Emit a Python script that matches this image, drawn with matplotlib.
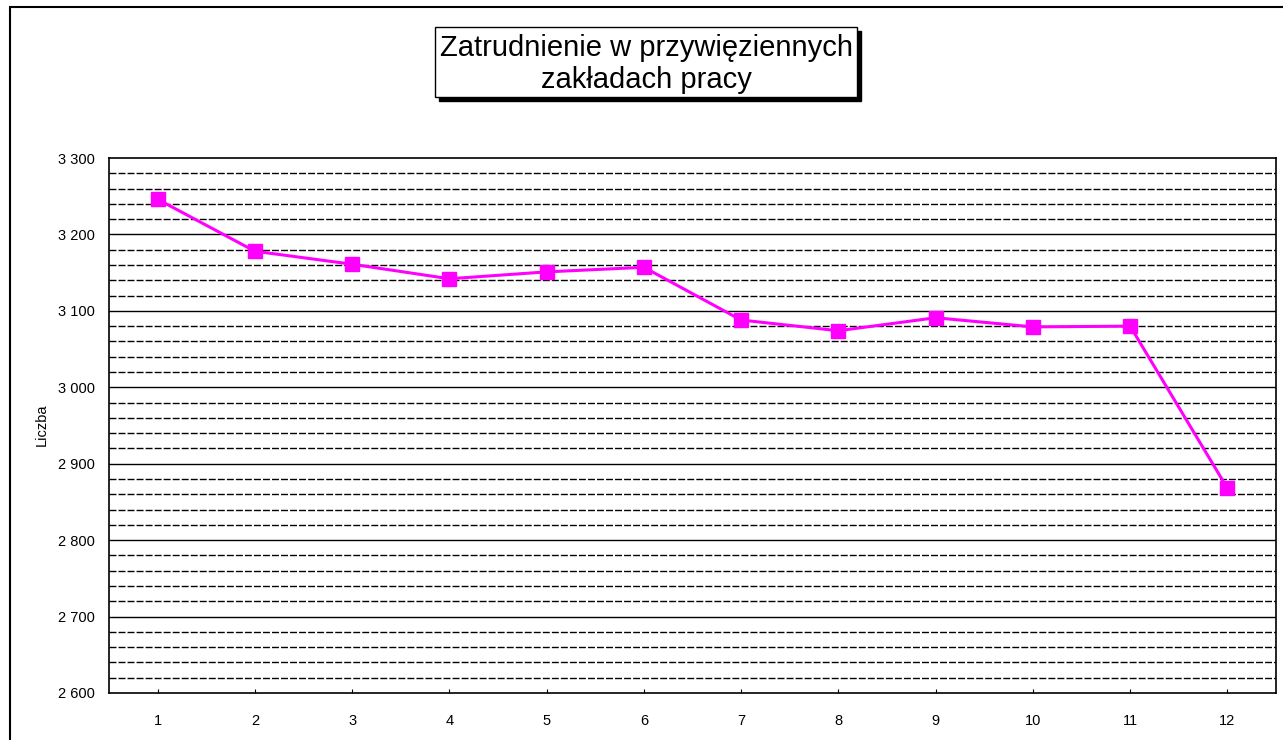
import matplotlib
matplotlib.use("Agg")
import matplotlib.pyplot as plt
from matplotlib.patches import Rectangle
from matplotlib.ticker import MultipleLocator, FuncFormatter

plt.rcParams['font.family'] = ['Liberation Sans', 'DejaVu Sans']

months = [1, 2, 3, 4, 5, 6, 7, 8, 9, 10, 11, 12]
employment = [3246, 3178, 3161, 3142, 3151, 3157, 3088, 3074, 3091, 3079, 3080, 2868]
title_text = "Zatrudnienie w przywięziennych\nzakładach pracy"
ylabel_text = "Liczba"

W, H = 1283, 740
fig = plt.figure(figsize=(W / 100, H / 100), dpi=100)

# outer chart border (right and bottom edges fall outside the image)
fig.patches.append(Rectangle((10 / W, -0.05), 1.05, 1.05 - 7 / H,
                             transform=fig.transFigure, fill=False,
                             edgecolor='black', linewidth=1.5))

left, right, top, bottom = 109, 1276, 158, 693
ax = fig.add_axes([left / W, 1 - bottom / H, (right - left) / W, (bottom - top) / H])

ax.set_xlim(0.5, 12.5)
ax.set_ylim(2600, 3300)

# gridlines every 20
for v in range(2620, 3300, 20):
    if v % 100 == 0:
        ax.axhline(v, color='black', linewidth=1.0, zorder=1)
    else:
        ax.axhline(v, color='black', linewidth=1.0, linestyle=(0, (5, 1.5)), zorder=1)

ax.plot(months, employment, color='#FF00FF', linewidth=2.2, marker='s',
        markersize=10, markerfacecolor='#FF00FF', markeredgecolor='#FF00FF', zorder=3)

ax.yaxis.set_major_locator(MultipleLocator(100))
ax.yaxis.set_major_formatter(FuncFormatter(lambda v, p: f"{int(v):,}".replace(",", " ")))
ax.set_xticks(months)
ax.set_xticklabels([str(m) for m in months])
ax.tick_params(axis='y', length=0, labelsize=10.5, pad=10)
ax.tick_params(axis='x', direction='in', length=3, labelsize=10.5, pad=15)
for s in ax.spines.values():
    s.set_linewidth(1.2)
    s.set_color('black')

fig.text(42 / W, 1 - 425 / H, ylabel_text, rotation=90, ha='center', va='center', fontsize=10.5)

# title box with shadow
bx0, by0, bx1, by1 = 435, 27, 857, 97
fig.patches.append(Rectangle(((bx0 + 4) / W, 1 - (by1 + 4) / H), (bx1 - bx0) / W, (by1 - by0) / H,
                             transform=fig.transFigure, facecolor='black', edgecolor='black', zorder=5))
fig.patches.append(Rectangle((bx0 / W, 1 - by1 / H), (bx1 - bx0) / W, (by1 - by0) / H,
                             transform=fig.transFigure, facecolor='white', edgecolor='black',
                             linewidth=1.0, zorder=6))
fig.text((bx0 + bx1) / 2 / W, 1 - 64 / H, title_text, ha='center', va='center',
         fontsize=21, linespacing=1.2, zorder=7)

fig.savefig("out.png", dpi=100)
